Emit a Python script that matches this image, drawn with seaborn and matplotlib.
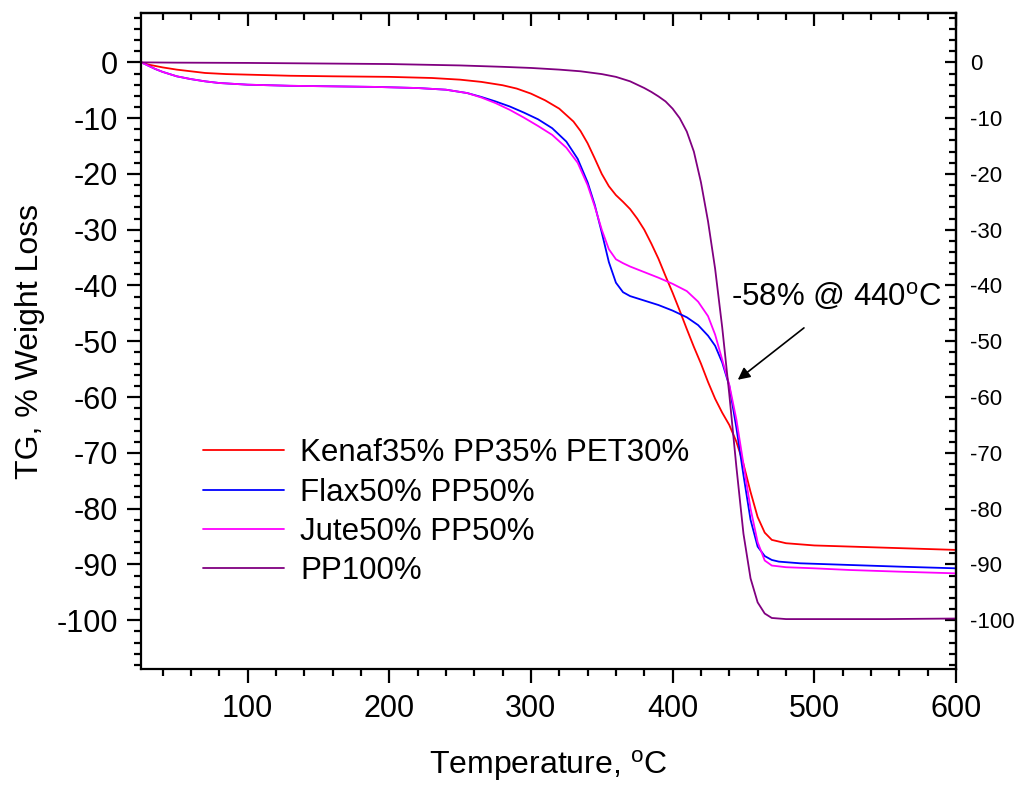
import numpy as np
import pandas as pd
import matplotlib
matplotlib.use("Agg")
import matplotlib.pyplot as plt
import seaborn as sns

# Thermogravimetric curves: temperature (degC) and weight change (%)
kenaf_t = [25, 30, 40, 50, 60, 70, 85, 100, 130, 160, 200, 230, 250, 265, 280, 290,
           300, 310, 320, 330, 335, 340, 345, 350, 355, 360, 365, 370, 375, 380, 385,
           390, 395, 400, 405, 410, 415, 420, 425, 430, 435, 440, 445, 450, 455, 460,
           465, 470, 480, 500, 550, 600]
kenaf_w = [0, -0.4, -0.9, -1.3, -1.6, -1.9, -2.1, -2.2, -2.4, -2.5, -2.6, -2.8, -3.1,
           -3.5, -4.1, -4.7, -5.6, -6.8, -8.3, -10.6, -12.3, -14.5, -17.2, -20.0, -22.2,
           -23.8, -25.0, -26.3, -28.0, -30.0, -32.5, -35.2, -38.3, -41.3, -44.5, -47.8,
           -51.0, -54.0, -57.3, -60.3, -62.8, -65.0, -68.0, -72.0, -77.0, -81.5, -84.3,
           -85.6, -86.2, -86.6, -87.0, -87.4]

flax_t = [25, 30, 35, 40, 50, 60, 70, 80, 100, 130, 160, 190, 220, 240, 255, 265, 275,
          285, 295, 305, 315, 325, 333, 340, 345, 350, 355, 360, 365, 370, 375, 380,
          390, 400, 410, 418, 425, 430, 435, 440, 445, 450, 455, 460, 465, 470, 475,
          490, 525, 560, 600]
flax_w = [0, -0.6, -1.2, -1.7, -2.5, -3.0, -3.4, -3.7, -4.0, -4.2, -4.3, -4.4, -4.6,
          -4.9, -5.5, -6.2, -7.0, -7.9, -9.0, -10.2, -11.8, -14.2, -17.3, -21.5, -25.5,
          -30.5, -35.8, -39.5, -41.2, -41.9, -42.3, -42.7, -43.5, -44.5, -45.7, -47.1,
          -49.0, -50.8, -53.8, -58.0, -65.5, -74.0, -82.0, -86.8, -88.5, -89.2, -89.5,
          -89.8, -90.1, -90.4, -90.7]

jute_t = [25, 30, 35, 40, 50, 60, 70, 80, 100, 130, 160, 190, 220, 240, 255, 265, 275,
          285, 295, 305, 315, 325, 333, 340, 345, 350, 355, 360, 365, 370, 380, 390,
          400, 410, 418, 425, 430, 435, 440, 445, 450, 455, 460, 465, 470, 480, 500,
          525, 560, 600]
jute_w = [0, -0.6, -1.2, -1.7, -2.5, -3.0, -3.4, -3.7, -4.0, -4.2, -4.3, -4.4, -4.6,
          -4.9, -5.5, -6.3, -7.3, -8.5, -9.9, -11.4, -13.0, -15.3, -18.0, -22.0, -25.8,
          -30.0, -33.5, -35.3, -36.0, -36.6, -37.6, -38.6, -39.7, -41.0, -42.9, -45.5,
          -48.8, -53.3, -57.8, -64.0, -72.0, -80.0, -86.0, -89.3, -90.2, -90.5, -90.7,
          -91.0, -91.3, -91.6]

pp_t = [25, 50, 100, 150, 200, 250, 280, 300, 320, 335, 350, 360, 370, 380, 385, 390,
        395, 400, 405, 410, 415, 420, 425, 430, 435, 440, 445, 450, 455, 460, 465, 470,
        480, 500, 550, 600]
pp_w = [0, -0.05, -0.1, -0.2, -0.3, -0.55, -0.8, -1.0, -1.3, -1.6, -2.1, -2.6, -3.4,
        -4.6, -5.3, -6.1, -7.0, -8.3, -10.0, -12.4, -16.0, -21.5, -28.5, -37.0, -47.5,
        -59.5, -72.5, -84.5, -92.5, -96.8, -98.8, -99.6, -99.8, -99.8, -99.8, -99.7]

samples = ["Kenaf35% PP35% PET30%", "Flax50% PP50%", "Jute50% PP50%", "PP100%"]
colors = ["#FF0000", "#0000FF", "#FF00FF", "#800080"]

y_ticks = list(range(0, -101, -10))
x_ticks = [100, 200, 300, 400, 500, 600]

series = [(kenaf_t, kenaf_w), (flax_t, flax_w), (jute_t, jute_w), (pp_t, pp_w)]
df = pd.concat(
    [pd.DataFrame({"T": t, "W": w, "sample": name}) for (t, w), name in zip(series, samples)],
    ignore_index=True,
)

sns.set_theme(style="ticks")
plt.rcParams["font.family"] = ["Liberation Sans", "DejaVu Sans"]
plt.rcParams["mathtext.fontset"] = "custom"
plt.rcParams["mathtext.rm"] = "Liberation Sans"
plt.rcParams["mathtext.it"] = "Liberation Sans:italic"
plt.rcParams["axes.unicode_minus"] = False
for key in ("text.color", "axes.labelcolor", "xtick.color", "ytick.color",
            "xtick.labelcolor", "ytick.labelcolor"):
    plt.rcParams[key] = "black"

fig = plt.figure(figsize=(10.23, 7.85), dpi=100)
ax = fig.add_axes([0.1381, 0.1474, 0.7964, 0.8364])

sns.lineplot(data=df, x="T", y="W", hue="sample", hue_order=samples,
             palette=dict(zip(samples, colors)), estimator=None, sort=False,
             linewidth=1.3, ax=ax)

ax.set_xlim(25, 600)
ax.set_ylim(-108.8, 8.9)

for s in ax.spines.values():
    s.set_linewidth(1.6)
    s.set_color("black")

ax.set_xticks(x_ticks)
ax.set_xticks(np.arange(40, 600, 20), minor=True)
ax.set_yticks(y_ticks)
ax.set_yticks(np.arange(-108, 9, 2), minor=True)
ax.tick_params(axis="both", which="major", direction="out", length=10, width=1.6,
               labelsize=22, color="black", labelcolor="black")
ax.tick_params(axis="both", which="minor", direction="out", length=5, width=1.6,
               color="black")
ax.tick_params(axis="y", which="major", pad=7)
ax.tick_params(axis="x", which="major", pad=8)

# Inner ticks on the top and right frame, with labels on the right side
top = ax.secondary_xaxis("top")
top.set_xticks(x_ticks)
top.set_xticks(np.arange(40, 600, 20), minor=True)
top.tick_params(which="major", direction="in", length=9, width=1.6, labeltop=False)
top.tick_params(which="minor", direction="in", length=5, width=1.6)
top.spines["top"].set_linewidth(1.6)

right = ax.secondary_yaxis("right")
right.set_yticks(y_ticks)
right.set_yticks(np.arange(-108, 9, 2), minor=True)
right.tick_params(which="major", direction="in", length=8, width=1.6, labelsize=16,
                  pad=10, labelcolor="black")
right.tick_params(which="minor", direction="in", length=5, width=1.6)
right.spines["right"].set_linewidth(1.6)

ax.set_xlabel(r"Temperature, $^{\mathrm{o}}$C", fontsize=23, labelpad=17)
ax.set_ylabel("TG, % Weight Loss", fontsize=23, labelpad=8)

handles, labels = ax.get_legend_handles_labels()
leg = ax.legend(handles, labels, loc="upper left", bbox_to_anchor=(0.076, 0.352),
                frameon=False, fontsize=22.5, handlelength=2.6, handletextpad=0.5,
                labelspacing=0.3, borderpad=0, borderaxespad=0)
for txt in leg.get_texts():
    txt.set_color("black")

ax.annotate("", xy=(446, -56.9), xytext=(492.7, -47.6),
            arrowprops=dict(arrowstyle="-|>", color="black", lw=1.2,
                            mutation_scale=18, shrinkA=0, shrinkB=0))
ax.text(441, -42.1, r"-58% @ 440$^{\mathrm{o}}$C", fontsize=22.5, color="black",
        ha="left", va="center")

fig.savefig("out.png", dpi=100)
